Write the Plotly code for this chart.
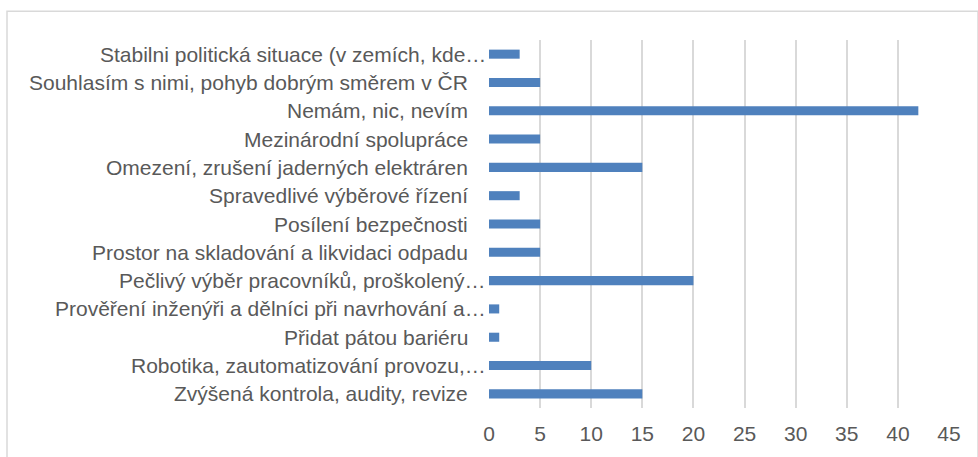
import plotly.graph_objects as go

categories = [
    "Stabilni politická situace (v zemích, kde…",
    "Souhlasím s nimi, pohyb dobrým směrem v ČR",
    "Nemám, nic, nevím",
    "Mezinárodní spolupráce",
    "Omezení, zrušení jaderných elektráren",
    "Spravedlivé výběrové řízení",
    "Posílení bezpečnosti",
    "Prostor na skladování a likvidaci odpadu",
    "Pečlivý výběr pracovníků, proškolený…",
    "Prověření inženýři a dělníci při navrhování a…",
    "Přidat pátou bariéru",
    "Robotika, zautomatizování provozu,…",
    "Zvýšená kontrola, audity, revize",
]
values = [3, 5, 42, 5, 15, 3, 5, 5, 20, 1, 1, 10, 15]
x_ticks = [0, 5, 10, 15, 20, 25, 30, 35, 40, 45]

W, H = 978, 457
ml, mr, mt, mb = 489, 29, 40, 47
pw, ph = W - ml - mr, H - mt - mb
FONT = "Liberation Sans, Arial, sans-serif"

fig = go.Figure(go.Bar(
    x=values, y=categories, orientation="h",
    marker=dict(color="#4F81BD", line=dict(width=0)),
    width=0.32, hoverinfo="x+y",
))

annotations = []
for c in categories:
    truncated = c.endswith("…")
    annotations.append(dict(
        x=0, y=c, xref="x", yref="y", text=c, showarrow=False,
        xanchor="right", yanchor="middle",
        xshift=-1 if truncated else -19,
        font=dict(family=FONT, size=21, color="#595959"),
    ))

fig.update_layout(
    width=W, height=H,
    margin=dict(l=ml, r=mr, t=mt, b=mb),
    paper_bgcolor="white", plot_bgcolor="white",
    showlegend=False,
    annotations=annotations,
    xaxis=dict(
        range=[0, 45], tickvals=x_ticks, ticktext=[str(v) for v in x_ticks],
        showgrid=True, gridcolor="#D9D9D9", gridwidth=2,
        zeroline=False, showline=False, ticks="",
        tickfont=dict(family=FONT, size=21, color="#595959"),
        ticklabelstandoff=11,
        fixedrange=True,
    ),
    yaxis=dict(
        autorange="reversed", showticklabels=False, showgrid=False,
        zeroline=False, showline=False, ticks="",
        fixedrange=True,
    ),
    shapes=[dict(
        type="rect", xref="paper", yref="paper",
        x0=(7 - ml) / pw, x1=(978 - ml) / pw,
        y0=-0.3, y1=1 + (mt - 11) / ph,
        line=dict(color="#D9D9D9", width=1.5),
        layer="above",
    )],
)

fig.write_html(
    "out.html",
    config={"displayModeBar": False},
    post_script="document.body.style.margin='0';document.body.style.overflow='hidden';",
)
